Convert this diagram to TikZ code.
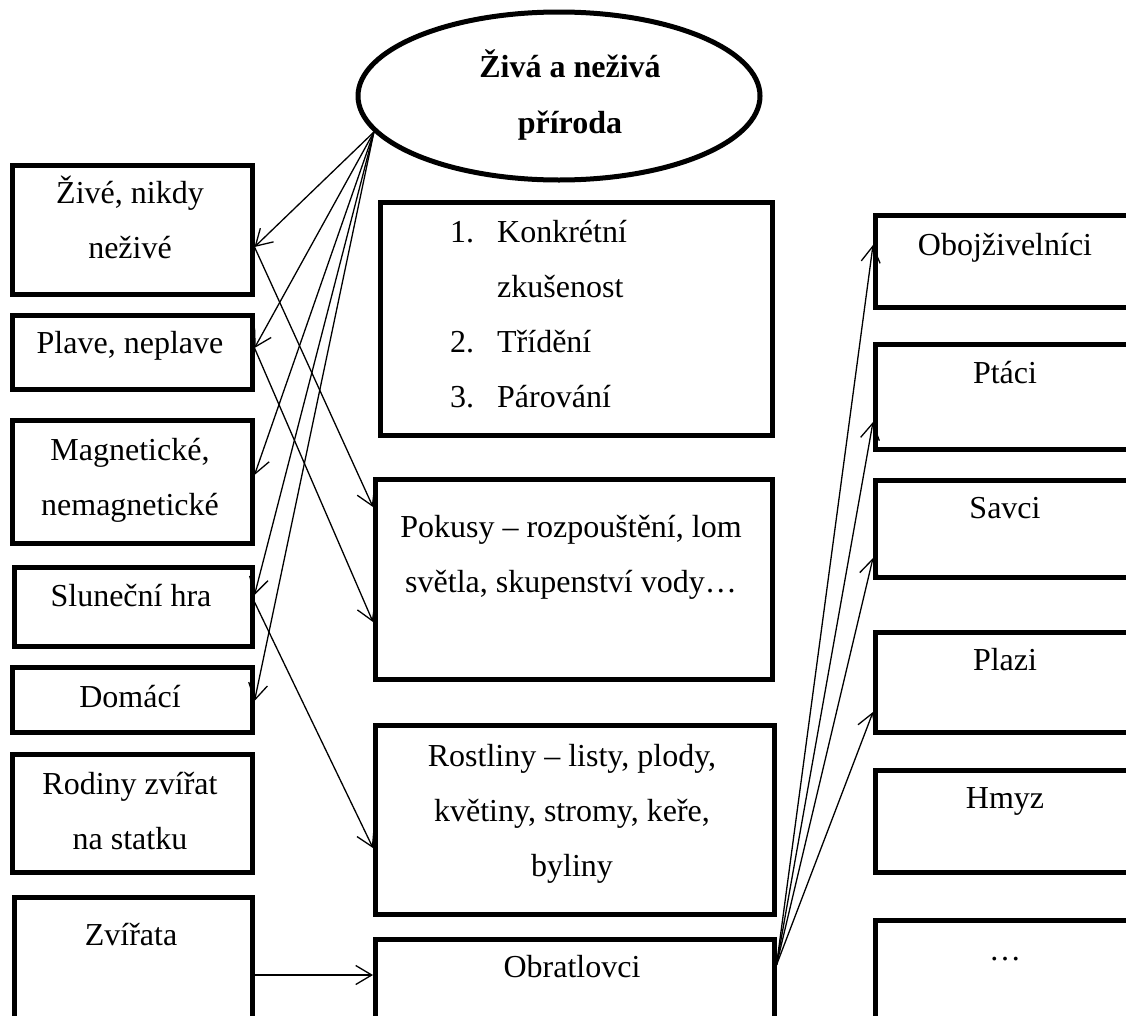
\documentclass[tikz,border=0pt]{standalone}
\usepackage{fontspec}
\setmainfont{Liberation Serif}
\usetikzlibrary{arrows.meta,shapes.geometric}

\begin{document}
\begin{tikzpicture}[x=1pt,y=-1pt,>={Straight Barb[length=16pt,width=19pt]}]
	\tikzstyle{box} = [draw,rectangle,line width=4.5pt,anchor=north west,inner sep=0pt];
	\tikzstyle{txt} = [anchor=north,align=center,inner sep=0pt,yshift=38.5pt,
		font=\fontsize{32}{55}\selectfont];
	\tikzstyle{con} = [->,line width=1.3pt];
	\useasboundingbox (0,0) rectangle (1126,1015);
	\clip (0,0) rectangle (1126,1015);
	% hlavni tema
	\node[ellipse,draw,line width=5pt,minimum width=402pt,minimum height=168pt] (tema) at (559,96) {};
	\node[txt,yshift=0.7pt,font=\fontsize{32}{56}\selectfont\bfseries] (tematxt) at (570,77) {\strut Živá a neživá\\příroda};
	% levy sloupec
	\node[box,minimum width=240pt,minimum height=129pt] (zive) at (10,163) {};
	\node[box,minimum width=240pt,minimum height=74pt] (plave) at (10,313) {};
	\node[box,minimum width=240pt,minimum height=123pt] (magnet) at (10,418) {};
	\node[box,minimum width=238pt,minimum height=79pt] (slunce) at (12,565) {};
	\node[box,minimum width=240pt,minimum height=65pt] (domaci) at (10,665) {};
	\node[box,minimum width=240pt,minimum height=118pt] (rodiny) at (10,752) {};
	\node[box,minimum width=238pt,minimum height=200pt] (zvirata) at (12,895) {};
	\node[txt] (zivetxt) at (130,203) {\strut Živé, nikdy\\neživé};
	\node[txt] (plavetxt) at (130,353) {\strut Plave, neplave};
	\node[txt] (magnettxt) at (130,460) {\strut Magnetické,\\nemagnetické};
	\node[txt] (sluncetxt) at (131,606) {\strut Sluneční hra};
	\node[txt] (domacitxt) at (130,707) {\strut Domácí};
	\node[txt] (rodinytxt) at (130,794) {\strut Rodiny zvířat\\na statku};
	\node[txt] (zviratatxt) at (131,945) {\strut Zvířata};
	% prostredni sloupec
	\node[box,minimum width=392pt,minimum height=233pt] (metody) at (378,200) {};
	\node[box,minimum width=397pt,minimum height=200pt] (pokusy) at (373,477) {};
	\node[box,minimum width=399pt,minimum height=189pt] (rostliny) at (373,723) {};
	\node[box,minimum width=399pt,minimum height=150pt] (obratlovci) at (373,937) {};
	\node[txt,anchor=north west,align=left] (metodytxt) at (450,242)
		{\strut\makebox[47pt][l]{1.}Konkrétní\\\hspace*{47pt}zkušenost\\\makebox[47pt][l]{2.}Třídění\\\makebox[47pt][l]{3.}Párování};
	\node[txt] (pokusytxt) at (571,537) {\strut Pokusy – rozpouštění, lom\\světla, skupenství vody…};
	\node[txt] (rostlinytxt) at (572,766) {\strut Rostliny – listy, plody,\\květiny, stromy, keře,\\byliny};
	\node[txt] (obratlovcitxt) at (572,977) {\strut Obratlovci};
	% pravy sloupec
	\node[box,minimum width=300pt,minimum height=92pt] (oboj) at (873,213) {};
	\node[box,minimum width=300pt,minimum height=105pt] (ptaci) at (873,342) {};
	\node[box,minimum width=300pt,minimum height=97pt] (savci) at (873,478) {};
	\node[box,minimum width=300pt,minimum height=100pt] (plazi) at (873,630) {};
	\node[box,minimum width=300pt,minimum height=102pt] (hmyz) at (873,768) {};
	\node[box,minimum width=300pt,minimum height=150pt] (dalsi) at (873,918) {};
	\node[txt] (ojbojtxt) at (1005,255) {\strut Obojživelníci};
	\node[txt] (ptacitxt) at (1005,383) {\strut Ptáci};
	\node[txt] (savcitxt) at (1005,518) {\strut Savci};
	\node[txt] (plazitxt) at (1005,670) {\strut Plazi};
	\node[txt] (hmyztxt) at (1005,808) {\strut Hmyz};
	\node[txt] (dalsitxt) at (1005,960) {\strut …};
	% sipky
	\draw[con] (tema.191) -- ([yshift=-84pt]zive.north east);
	\draw[con] (tema.191) -- ([yshift=-35pt]plave.north east);
	\draw[con] (tema.191) -- ([yshift=-57pt]magnet.north east);
	\draw[con] (tema.191) -- ([yshift=-30pt]slunce.north east);
	\draw[con] (tema.191) -- ([yshift=-36pt]domaci.north east);
	\draw[con] ([yshift=-84pt]zive.north east) -- ([yshift=-30pt]pokusy.north west);
	\draw[con] ([yshift=-35pt]plave.north east) -- ([yshift=-145pt]pokusy.north west);
	\draw[con] ([yshift=-37pt]slunce.north east) -- ([yshift=-125pt]rostliny.north west);
	\draw[con] ([yshift=-80pt]zvirata.north east) -- ([yshift=-38pt]obratlovci.north west);
	\draw[con] ([yshift=-28pt]obratlovci.north east) -- ([yshift=-32pt]oboj.north west);
	\draw[con] ([yshift=-28pt]obratlovci.north east) -- ([yshift=-80pt]ptaci.north west);
	\draw[con] ([yshift=-28pt]obratlovci.north east) -- ([yshift=-80pt]savci.north west);
	\draw[con] ([yshift=-28pt]obratlovci.north east) -- ([yshift=-82pt]plazi.north west);
\end{tikzpicture}
\end{document}
